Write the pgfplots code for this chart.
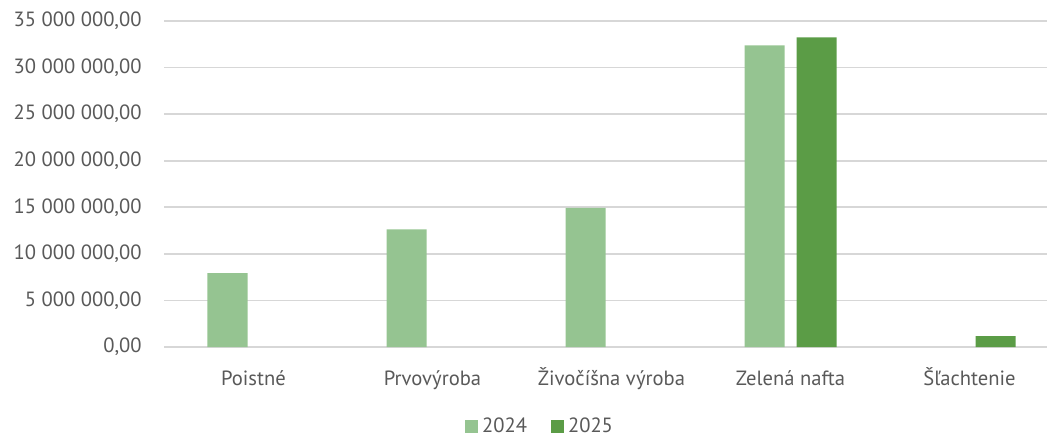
\documentclass[border=0pt]{standalone}
\usepackage{pgfplots}
\pgfplotsset{compat=1.18}
\usepackage{fontspec}
\setmainfont{PT Sans}
\definecolor{lg}{RGB}{149,196,145}
\definecolor{dg}{RGB}{91,156,70}
\definecolor{txt}{RGB}{89,89,89}
\definecolor{gridc}{RGB}{215,215,215}
\begin{document}
\begin{tikzpicture}
\useasboundingbox (-82pt,-46pt) rectangle (441.5pt,173.5pt);
\begin{axis}[
  at={(0pt,0pt)}, anchor=south west,
  scale only axis, width=441.5pt, height=163pt,
  xmin=-0.5, xmax=4.433, ymin=0, ymax=35000000,
  axis line style={draw=none},
  clip=false,
  scaled y ticks=false,
  ybar=6pt, bar width=20pt,
  ymajorgrids, xmajorgrids=false, grid style={draw=gridc, line width=0.8pt},
  major tick length=0pt,
  xtick={0,1,2,3,4},
  xticklabels={Poistné,Prvovýroba,Živočíšna výroba,Zelená nafta,Šľachtenie},
  xticklabel style={font=\fontsize{10.3}{12}\selectfont, text=txt, anchor=base, yshift=-19pt, inner sep=0pt},
  ytick={0,5000000,10000000,15000000,20000000,25000000,30000000,35000000},
  yticklabels={{0,00},{5 000 000,00},{10 000 000,00},{15 000 000,00},{20 000 000,00},{25 000 000,00},{30 000 000,00},{35 000 000,00}},
  yticklabel style={font=\fontsize{10.3}{12}\selectfont, text=txt, anchor=east, xshift=-11pt, inner sep=0pt},
  legend style={at={(0.427,-0.245)}, anchor=center, draw=none, fill=none,
    font=\fontsize{10.3}{12}\selectfont, text=txt, legend columns=2,
    /tikz/every even column/.append style={column sep=10pt}},
  legend image code/.code={\fill[#1] (0pt,-3.25pt) rectangle (6.5pt,3.25pt);},
]
\addplot[fill=lg, draw=none] coordinates {(0,7940000) (1,12640000) (2,14950000) (3,32390000)};
\addplot[fill=dg, draw=none] coordinates {(3,33250000) (4,1180000)};
\legend{2024,2025}
\end{axis}
\end{tikzpicture}
\end{document}
